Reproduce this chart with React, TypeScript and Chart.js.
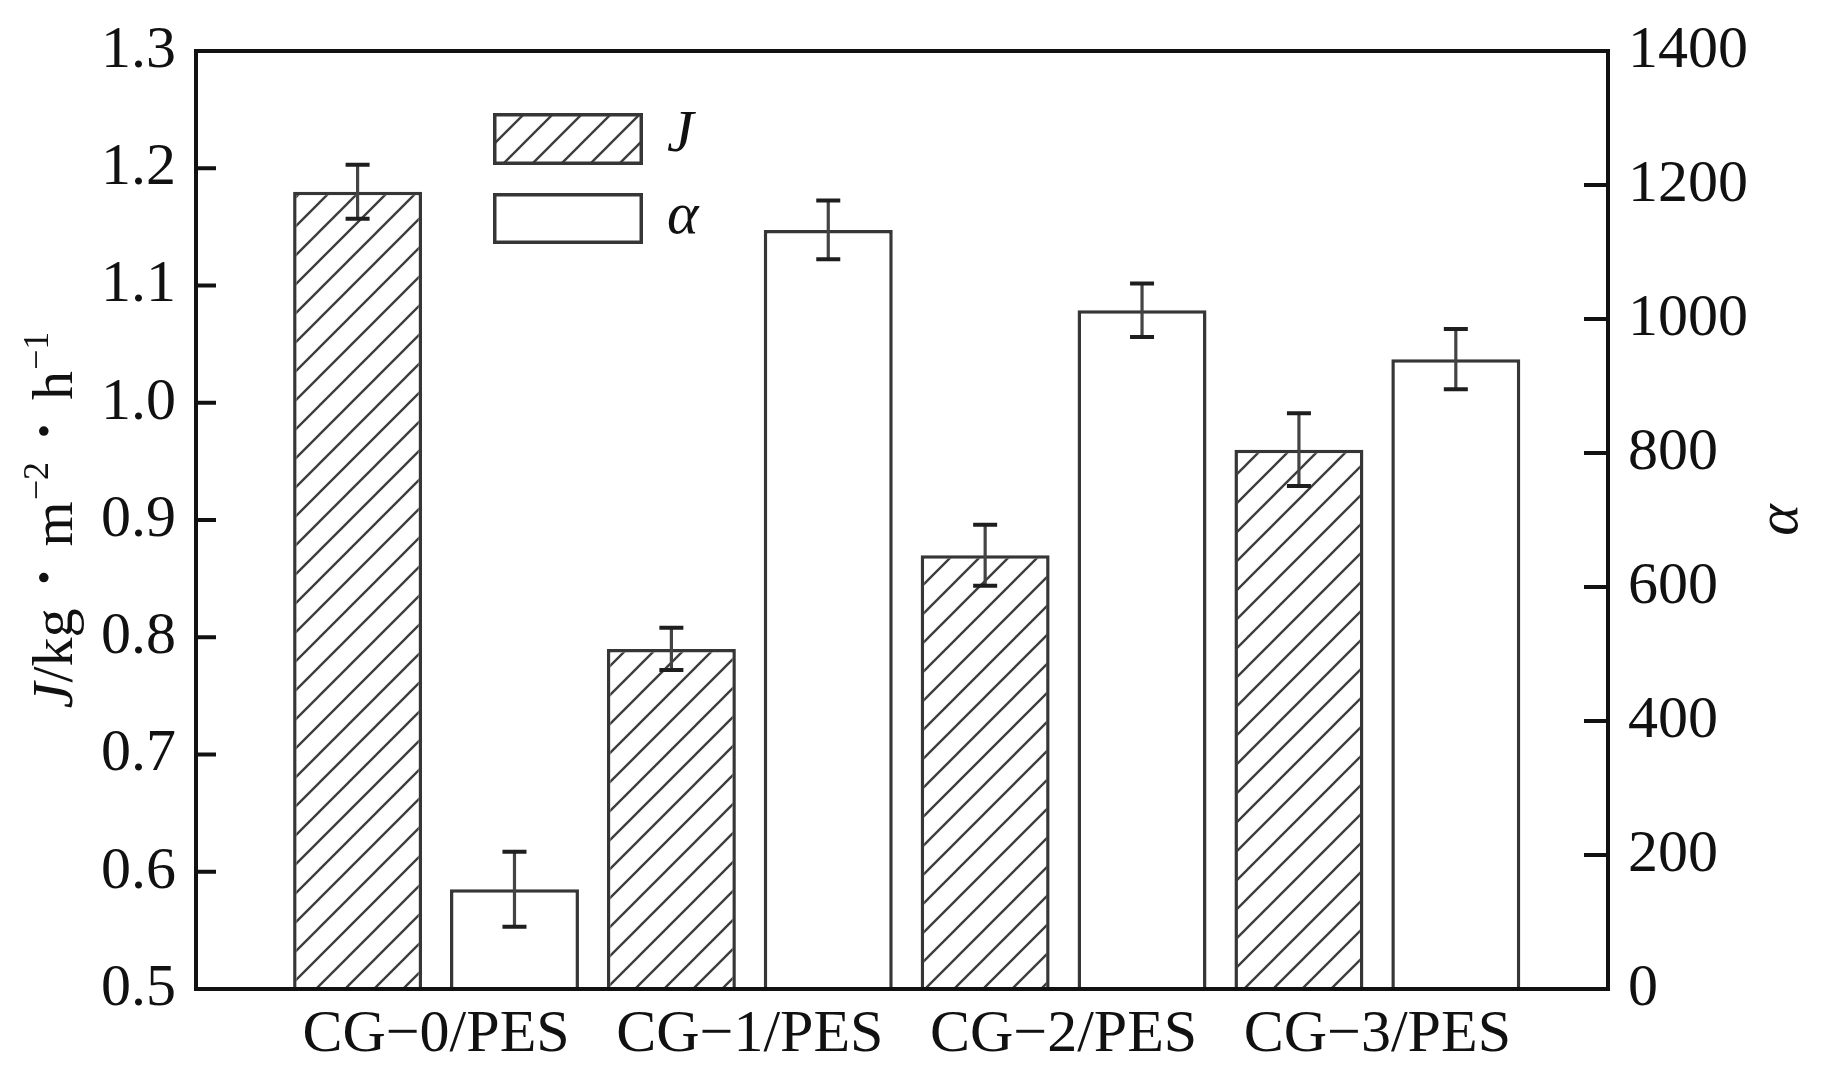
import React, { useEffect, useRef } from 'react';
import { Chart, registerables } from 'chart.js';

Chart.register(...registerables);

// ---- data ----
const categories = ['CG−0/PES', 'CG−1/PES', 'CG−2/PES', 'CG−3/PES'];
const fluxJ = [1.18, 0.79, 0.87, 0.96];
const fluxJErr = [0.023, 0.018, 0.026, 0.031];
const alphaValues = [149, 1133, 1013, 940];
const alphaErr = [56, 44, 40, 45];
const seriesLabels = ['J', 'α'];
const jAxis = { min: 0.5, max: 1.3, step: 0.1 };
const alphaAxis = { min: 0, max: 1400, step: 200 };
const yTitleParts = ['J', '/kg', '•', 'm', '−2', '•', 'h', '−1'];
const y1Title = 'α';

const FONT = "'Liberation Serif', 'Times New Roman', serif";
const INK = '#111111';
const BAR_EDGE = '#363636';

function makeHatch(ctx: CanvasRenderingContext2D): CanvasPattern | string {
  const s = 29;
  const c = document.createElement('canvas');
  c.width = s;
  c.height = s;
  const g = c.getContext('2d');
  if (!g) return '#fff';
  g.fillStyle = '#ffffff';
  g.fillRect(0, 0, s, s);
  g.strokeStyle = '#3e3e3e';
  g.lineWidth = 2.4;
  g.lineCap = 'square';
  g.beginPath();
  g.moveTo(-2, s + 2);
  g.lineTo(s + 2, -2);
  g.moveTo(-4, 4);
  g.lineTo(4, -4);
  g.moveTo(s - 4, s + 4);
  g.lineTo(s + 4, s - 4);
  g.stroke();
  return ctx.createPattern(c, 'repeat') || '#fff';
}

const framePlugin = {
  id: 'frameAndTicks',
  afterDatasetsDraw(chart: any) {
    const { ctx, chartArea } = chart;
    const { left, right, top, bottom } = chartArea;
    ctx.save();
    ctx.strokeStyle = INK;
    ctx.lineWidth = 4;
    ctx.lineCap = 'butt';
    const yS = chart.scales.y;
    yS.ticks.forEach((t: any) => {
      if (t.value <= yS.min + 1e-9 || t.value >= yS.max - 1e-9) return;
      const py = yS.getPixelForValue(t.value);
      ctx.beginPath();
      ctx.moveTo(left, py);
      ctx.lineTo(left + 20, py);
      ctx.stroke();
    });
    const y1S = chart.scales.y1;
    y1S.ticks.forEach((t: any) => {
      if (t.value <= y1S.min + 1e-9 || t.value >= y1S.max - 1e-9) return;
      const py = y1S.getPixelForValue(t.value);
      ctx.beginPath();
      ctx.moveTo(right, py);
      ctx.lineTo(right - 24, py);
      ctx.stroke();
    });
    ctx.strokeRect(left, top, right - left, bottom - top);
    ctx.restore();
  },
};

const errorBarPlugin = {
  id: 'errorBars',
  afterDatasetsDraw(chart: any) {
    const { ctx } = chart;
    ctx.save();
    chart.data.datasets.forEach((ds: any, di: number) => {
      const meta = chart.getDatasetMeta(di);
      const scale = chart.scales[ds.yAxisID];
      meta.data.forEach((el: any, i: number) => {
        const v = ds.data[i].y;
        const e = ds.errors[i];
        const yTop = scale.getPixelForValue(v + e);
        const yBot = scale.getPixelForValue(v - e);
        const x = el.x;
        ctx.strokeStyle = '#444444';
        ctx.lineWidth = 3.2;
        ctx.beginPath();
        ctx.moveTo(x, yTop);
        ctx.lineTo(x, yBot);
        ctx.stroke();
        ctx.strokeStyle = '#1e1e1e';
        ctx.lineWidth = 4;
        ctx.beginPath();
        ctx.moveTo(x - 12, yTop);
        ctx.lineTo(x + 12, yTop);
        ctx.moveTo(x - 12, yBot);
        ctx.lineTo(x + 12, yBot);
        ctx.stroke();
      });
    });
    ctx.restore();
  },
};

const legendPlugin = {
  id: 'insetLegend',
  afterDraw(chart: any) {
    const { ctx } = chart;
    const boxes = [
      { y: 113, h: 52, base: 151 },
      { y: 193, h: 51, base: 233 },
    ];
    ctx.save();
    chart.data.datasets.forEach((ds: any, i: number) => {
      const b = boxes[i];
      ctx.fillStyle = ds.backgroundColor;
      ctx.fillRect(493, b.y, 150, b.h);
      ctx.strokeStyle = BAR_EDGE;
      ctx.lineWidth = 3.5;
      ctx.strokeRect(494.75, b.y + 1.75, 146.5, b.h - 3.5);
      ctx.fillStyle = INK;
      ctx.font = `italic 60px ${FONT}`;
      ctx.textAlign = 'left';
      ctx.textBaseline = 'alphabetic';
      ctx.fillText(ds.label, 667, b.base);
    });
    ctx.restore();
  },
};

const titlesPlugin = {
  id: 'axisTitles',
  afterDraw(chart: any) {
    const { ctx } = chart;
    const main = 58;
    const sup = 36;
    const segs = [
      { t: yTitleParts[0], font: `italic ${main}px ${FONT}`, dy: 0, gapBefore: 0, mid: false },
      { t: yTitleParts[1], font: `${main}px ${FONT}`, dy: 0, gapBefore: 0, mid: false },
      { t: yTitleParts[2], font: `40px ${FONT}`, dy: -25, gapBefore: 24, mid: true },
      { t: yTitleParts[3], font: `${main}px ${FONT}`, dy: 0, gapBefore: 24, mid: false },
      { t: yTitleParts[4], font: `${sup}px ${FONT}`, dy: -24, gapBefore: 1, mid: false },
      { t: yTitleParts[5], font: `40px ${FONT}`, dy: -25, gapBefore: 24, mid: true },
      { t: yTitleParts[6], font: `${main}px ${FONT}`, dy: 0, gapBefore: 24, mid: false },
      { t: yTitleParts[7], font: `${sup}px ${FONT}`, dy: -24, gapBefore: 1, mid: false },
    ];
    ctx.save();
    let total = 0;
    const widths = segs.map((s) => {
      ctx.font = s.font;
      const w = ctx.measureText(s.t).width;
      total += s.gapBefore + w;
      return w;
    });
    const ca = chart.chartArea;
    ctx.translate(72, (ca.top + ca.bottom) / 2);
    ctx.rotate(-Math.PI / 2);
    ctx.fillStyle = INK;
    ctx.textAlign = 'left';
    let x = -total / 2;
    segs.forEach((s, i) => {
      x += s.gapBefore;
      ctx.font = s.font;
      ctx.textBaseline = s.mid ? 'middle' : 'alphabetic';
      ctx.fillText(s.t, x, s.dy);
      x += widths[i];
    });
    ctx.restore();

    ctx.save();
    ctx.translate(1797, (ca.top + ca.bottom) / 2);
    ctx.rotate(-Math.PI / 2);
    ctx.fillStyle = INK;
    ctx.font = `italic 60px ${FONT}`;
    ctx.textAlign = 'center';
    ctx.textBaseline = 'alphabetic';
    ctx.fillText(y1Title, 0, 0);
    ctx.restore();
  },
};

export default function App() {
  const ref = useRef<HTMLCanvasElement>(null);

  useEffect(() => {
    const canvas = ref.current;
    if (!canvas) return;
    const ctx = canvas.getContext('2d') as CanvasRenderingContext2D;
    const hatch = makeHatch(ctx);

    const chart = new Chart(canvas, {
      type: 'bar',
      data: {
        datasets: [
          {
            label: seriesLabels[0],
            data: fluxJ.map((v, i) => ({ x: i, y: v })),
            yAxisID: 'y',
            backgroundColor: hatch as any,
            borderColor: BAR_EDGE,
            borderWidth: 3.5,
            errors: fluxJErr,
          } as any,
          {
            label: seriesLabels[1],
            data: alphaValues.map((v, i) => ({ x: i, y: v })),
            yAxisID: 'y1',
            backgroundColor: '#ffffff',
            borderColor: BAR_EDGE,
            borderWidth: 3.5,
            errors: alphaErr,
          } as any,
        ],
      },
      options: {
        animation: false,
        responsive: true,
        maintainAspectRatio: false,
        layout: { padding: { top: 51, left: 0, right: 0, bottom: 0 } },
        datasets: { bar: { barPercentage: 0.822, categoryPercentage: 1.0 } },
        plugins: { legend: { display: false }, tooltip: { enabled: false } },
        scales: {
          x: {
            type: 'linear',
            offset: false,
            bounds: 'ticks',
            min: -0.765,
            max: 3.735,
            grid: { display: false, drawTicks: false, offset: false },
            border: { display: false },
            afterBuildTicks: (s: any) => {
              s.ticks = categories.map((_, i) => ({ value: i }));
            },
            afterFit: (s: any) => {
              s.height = 88;
            },
            ticks: {
              autoSkip: false,
              includeBounds: false,
              maxRotation: 0,
              minRotation: 0,
              padding: 10,
              color: INK,
              font: { family: FONT, size: 60 },
              callback: (v: any) => categories[v] ?? '',
            },
          },
          y: {
            type: 'linear',
            position: 'left',
            min: jAxis.min,
            max: jAxis.max,
            grid: { display: false, drawTicks: false },
            border: { display: false },
            afterFit: (s: any) => {
              s.width = 196;
            },
            ticks: {
              stepSize: jAxis.step,
              padding: 20,
              color: INK,
              font: { family: FONT, size: 60, lineHeight: 0.8 },
              callback: (v: any) => Number(v).toFixed(1),
            },
          },
          y1: {
            type: 'linear',
            position: 'right',
            min: alphaAxis.min,
            max: alphaAxis.max,
            grid: { display: false, drawTicks: false },
            border: { display: false },
            afterFit: (s: any) => {
              s.width = 214;
            },
            ticks: {
              stepSize: alphaAxis.step,
              padding: 20,
              color: INK,
              font: { family: FONT, size: 60, lineHeight: 0.8 },
              callback: (v: any) => String(Math.round(Number(v))),
            },
          },
        },
      } as any,
      plugins: [framePlugin, errorBarPlugin, legendPlugin, titlesPlugin],
    });

    return () => chart.destroy();
  }, []);

  return (
    <div
      style={{
        position: 'fixed',
        left: 0,
        top: 0,
        width: 1822,
        height: 1077,
        background: '#ffffff',
      }}
    >
      <canvas ref={ref} />
    </div>
  );
}
